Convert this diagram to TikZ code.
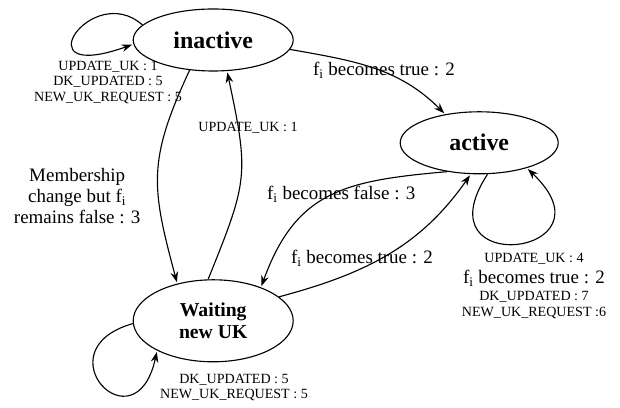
\documentclass[tikz,border=0pt]{standalone}
\usepackage{fontspec}
\setmainfont{Liberation Serif}
\usetikzlibrary{shapes.geometric,arrows.meta,positioning}
\tikzset{
  statenode/.style={draw, thick, ellipse, inner sep=0pt, minimum width=4cm, minimum height=1.55cm,
    font=\bfseries\fontsize{17}{19}\selectfont, align=center},
  trarrow/.style={-{Stealth[length=2.6mm,width=1.9mm]}, thick, shorten >=1pt},
  evlabel/.style={font=\fontsize{10}{11}\selectfont, align=center, inner sep=1pt},
  condlabel/.style={font=\fontsize{13.5}{15}\selectfont, align=center, inner sep=1pt},
}

\begin{document}
\begin{tikzpicture}
  \useasboundingbox (0,0) rectangle (15.5,10.2);
  \node[statenode] (inactive) at (5.33,9.2) {inactive};
  \node[statenode, minimum width=3.95cm] (active) at (11.98,6.63) {active};
  \node[statenode, minimum height=2.05cm, font=\bfseries\fontsize{14}{15}\selectfont] (waiting) at (5.33,2.18) {Waiting\\new UK};

  % self loops
  \draw[trarrow] (inactive.168) .. controls (2.3,10.7) and (0.5,8.08) .. (inactive.183);
  \draw[trarrow] (active.-75) .. controls (10.45,3.2) and (15.5,3.8) .. (active.-28);
  \draw[trarrow] (waiting.182) .. controls (1.0,1.45) and (3.38,-1.05) .. (waiting.208);

  % transitions
  \draw[trarrow] (inactive.-7) to[out=-10, in=135] (active.140);
  \draw[trarrow] (inactive.232) to[out=245, in=105, looseness=1.2] (waiting.134);
  \draw[trarrow] (waiting.97) to[out=68, in=-78, looseness=1.3] (inactive.-66);
  \draw[trarrow] (active.222) to[out=185, in=70, looseness=1.2] (waiting.35);
  \draw[trarrow] (waiting.20) to[out=15, in=-125] (active.-105);

  % labels
  \node[evlabel] (inloop) at (2.70,8.14) {UPDATE\_UK : 1\\DK\_UPDATED : 5\\NEW\_UK\_REQUEST : 5};
  \node[evlabel] (wtoin) at (6.20,7.00) {UPDATE\_UK : 1};
  \node[condlabel] (intow) at (1.93,5.30) {Membership\\change but f\textsubscript{i}\\remains false : 3};
  \node[condlabel] (intoact) at (9.60,8.45) {f\textsubscript{i} becomes true : 2};
  \node[condlabel] (acttow) at (8.53,5.33) {f\textsubscript{i} becomes false : 3};
  \node[condlabel] (wtoact) at (9.05,3.75) {f\textsubscript{i} becomes true : 2};
  \node[evlabel] (actloop) at (13.35,3.06) {UPDATE\_UK : 4\\[4pt]
    \fontsize{13.5}{15}\selectfont f\textsubscript{i} becomes true : 2\\[1.5pt]
    \fontsize{10}{11}\selectfont DK\_UPDATED : 7\\NEW\_UK\_REQUEST :6};
  \node[evlabel] (wloop) at (5.85,0.51) {DK\_UPDATED : 5\\NEW\_UK\_REQUEST : 5};
\end{tikzpicture}
\end{document}
